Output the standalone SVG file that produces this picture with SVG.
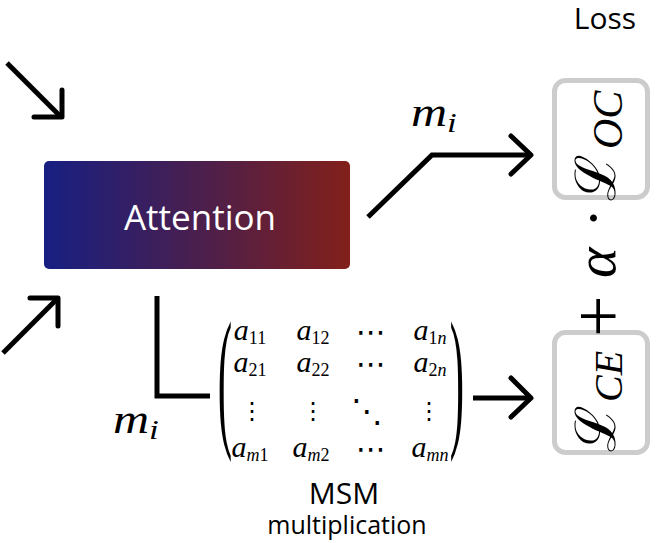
<svg xmlns="http://www.w3.org/2000/svg" width="656" height="543" viewBox="0 0 656 543">
  <defs>
    <linearGradient id="attGrad" x1="0" y1="0" x2="1" y2="0">
      <stop offset="0" stop-color="#171f82"/>
      <stop offset="0.5" stop-color="#4a1f4e"/>
      <stop offset="1" stop-color="#82201a"/>
    </linearGradient>
    <style>
      .ln { fill: none; stroke: #000; stroke-width: 5; stroke-linecap: butt; stroke-linejoin: miter; }
      .hd { fill: none; stroke: #000; stroke-width: 5; stroke-linecap: round; stroke-linejoin: round; }
      .sans { font-family: "Open Sans", "Noto Sans", sans-serif; }
      .math { font-family: "Liberation Serif", serif; font-style: italic; }
      .up { font-style: normal; }
      .sym { font-family: "DejaVu Sans", sans-serif; }
      .lossbox { fill: #fff; stroke: #cccccc; stroke-width: 5; }
    </style>
  </defs>

  <g id="connectors">
    <!-- top-left input arrow -->
    <path class="ln" d="M7,63 L60,116"/>
    <path class="hd" d="M34,117 L62,117 L62,90"/>
    <!-- bottom-left input arrow -->
    <path class="ln" d="M3,353 L56,300"/>
    <path class="hd" d="M30,298 L58,298 L58,326"/>
    <!-- attention to L_OC -->
    <path class="ln" d="M368,217 L432,155 L530,155"/>
    <path class="hd" d="M511,136 L531,155 L511,174"/>
    <!-- attention to matrix -->
    <path class="ln" d="M157,296 L157,396 L210,396"/>
    <!-- matrix to L_CE -->
    <path class="ln" d="M473,398 L530,398"/>
    <path class="hd" d="M511,378 L531,398 L511,417"/>
  </g>

  <g id="attention">
    <rect x="44" y="161" width="306" height="108" rx="5" fill="url(#attGrad)"/>
    <text class="sans" x="200" y="230" font-size="35" fill="#fff" text-anchor="middle">Attention</text>
  </g>

  <g id="label-mi-top">
    <text class="math" transform="translate(411,126) scale(1.25,1)" font-size="40">m<tspan font-size="28" dy="6">i</tspan></text>
  </g>
  <g id="label-mi-bottom">
    <text class="math" transform="translate(113,433) scale(1.25,1)" font-size="40">m<tspan font-size="28" dy="6">i</tspan></text>
  </g>

  <g id="matrix">
    <text class="math up" transform="translate(225,429) scale(0.28,1)" font-size="154" text-anchor="middle">(</text>
    <text class="math up" transform="translate(457,429) scale(0.28,1)" font-size="154" text-anchor="middle">)</text>
    <g font-size="30">
      <text class="math" x="250" y="340" text-anchor="middle">a<tspan class="up" font-size="18" dy="4">11</tspan></text>
      <text class="math" x="313" y="340" text-anchor="middle">a<tspan class="up" font-size="18" dy="4">12</tspan></text>
      <text class="math" x="430" y="340" text-anchor="middle">a<tspan class="up" font-size="18" dy="4">1</tspan><tspan font-size="18">n</tspan></text>
      <text class="math" x="250" y="372" text-anchor="middle">a<tspan class="up" font-size="18" dy="4">21</tspan></text>
      <text class="math" x="313" y="372" text-anchor="middle">a<tspan class="up" font-size="18" dy="4">22</tspan></text>
      <text class="math" x="430" y="372" text-anchor="middle">a<tspan class="up" font-size="18" dy="4">2</tspan><tspan font-size="18">n</tspan></text>
      <text class="math" x="250" y="457" text-anchor="middle">a<tspan font-size="18" dy="4">m</tspan><tspan class="up" font-size="18">1</tspan></text>
      <text class="math" x="311" y="457" text-anchor="middle">a<tspan font-size="18" dy="4">m</tspan><tspan class="up" font-size="18">2</tspan></text>
      <text class="math" x="430" y="457" text-anchor="middle">a<tspan font-size="18" dy="4">mn</tspan></text>
    </g>
    <g class="sym" font-size="30" text-anchor="middle">
      <text x="371" y="342">⋯</text>
      <text x="371" y="374">⋯</text>
      <text x="371" y="459">⋯</text>
      <text x="252" y="419" font-size="24">⋮</text>
      <text x="313" y="419" font-size="24">⋮</text>
      <text x="429" y="419" font-size="24">⋮</text>
      <text x="367" y="422" font-size="32">⋱</text>
    </g>
  </g>

  <g id="msm-label">
    <text class="sans" x="344" y="504" font-size="30" text-anchor="middle">MSM</text>
    <text class="sans" x="347" y="534" font-size="25" text-anchor="middle">multiplication</text>
  </g>

  <g id="loss-label">
    <text class="sans" x="605" y="29" font-size="30" text-anchor="middle">Loss</text>
  </g>

  <g id="loss-oc">
    <rect class="lossbox" x="554.5" y="80.5" width="93" height="117" rx="11"/>
  </g>
  <g id="loss-ce">
    <rect class="lossbox" x="554.5" y="332.5" width="93" height="120" rx="11"/>
  </g>

  <g id="loss-formula" transform="translate(615,0) rotate(-90)">
    <text font-family="DejaVu Serif, serif" font-size="56">
      <tspan x="-452" y="0">ℒ</tspan><tspan class="math" font-size="40" x="-402" y="7">CE</tspan><tspan font-family="Liberation Serif, serif" font-size="74" x="-337" y="8">+</tspan><tspan class="math" font-size="58" x="-278" y="0">α</tspan><tspan font-family="Liberation Serif, serif" font-size="60" x="-228" y="-2">·</tspan><tspan x="-201" y="0">ℒ</tspan><tspan class="math" font-size="42" x="-149" y="7">OC</tspan>
    </text>
  </g>
</svg>
